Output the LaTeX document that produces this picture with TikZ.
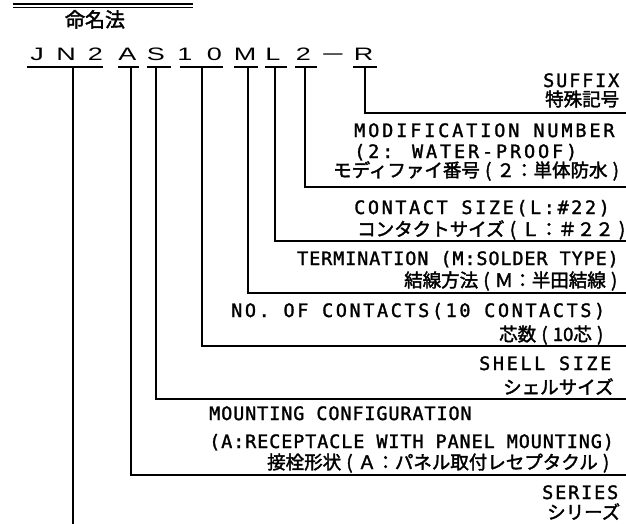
\documentclass[tikz,border=0pt]{standalone}
\usepackage{fontspec}
\usepackage{graphicx}
\newfontfamily\monoA[LetterSpace=15.5,FakeBold=1.5]{DejaVu Sans Mono}
\newfontfamily\monoB[LetterSpace=14.0,FakeBold=1.5]{DejaVu Sans Mono}
\newfontfamily\monoC[LetterSpace=10.0,FakeBold=1.5]{DejaVu Sans Mono}
\newfontfamily\monoD[LetterSpace=4.7,FakeBold=1.5]{DejaVu Sans Mono}
\newfontfamily\jpf[FakeBold=2]{Noto Sans CJK JP}
\newfontfamily\jpt{Noto Sans CJK JP}
\newfontfamily\codef{Liberation Sans}
\newcommand\jpo{\makebox[0.9em][c]{(}}
\newcommand\jpc{\makebox[0.9em][c]{)}}
\newcommand\wide[1]{\scalebox{1.5}[1]{#1}}
\tikzset{
  conn/.style={line width=1.6pt, line cap=rect},
  uline/.style={line width=1.5pt},
  code/.style={inner sep=0pt, anchor=base, font=\codef\fontsize{18}{20}\selectfont},
  la/.style={inner sep=0pt, anchor=base west, font=\monoA\fontsize{18.5}{20}\selectfont},
  lb/.style={inner sep=0pt, anchor=base west, font=\monoB\fontsize{18.5}{20}\selectfont},
  lc/.style={inner sep=0pt, anchor=base west, font=\monoC\fontsize{18.5}{20}\selectfont},
  ld/.style={inner sep=0pt, anchor=base west, font=\monoD\fontsize{18.5}{20}\selectfont},
  jp/.style={inner sep=0pt, anchor=base west, font=\jpf\fontsize{18.5}{20}\selectfont},
}
\begin{document}
\begin{tikzpicture}[x=1pt,y=-1pt]
\useasboundingbox[fill=white] (0,0) rectangle (626,523);
% header
\coordinate (h1a) at (13,4); \coordinate (h1b) at (193,4);
\coordinate (h2a) at (13,7.5); \coordinate (h2b) at (193,7.5);
\draw[line width=1.3pt] (h1a) -- (h1b);
\draw[line width=1.1pt] (h2a) -- (h2b);
\node[inner sep=0pt, anchor=base, font=\jpf\fontsize{20}{22}\selectfont] (title) at (95,27) {命名法};
% code letters
\node[code] (cJ) at (37,60) {\wide{J}};
\node[code] (cN) at (66,60) {\wide{N}};
\node[code] (c2a) at (95.5,60) {\wide{2}};
\node[code] (cA) at (127.5,60) {\wide{A}};
\node[code] (cS) at (156,60) {\wide{S}};
\node[code] (c1) at (185,60) {\wide{1}};
\node[code] (c0) at (214.5,60) {\wide{0}};
\node[code] (cM) at (245,60) {\wide{M}};
\node[code] (cL) at (273,60) {\wide{L}};
\node[code] (c2b) at (303.5,60) {\wide{2}};
\node[code] (cdash) at (333,60) {\scalebox{2.2}[1]{−}};
\node[code] (cR) at (363.5,60) {\wide{R}};
% underlines
\foreach \n/\a/\b in {JN/27/103, A/118/139, S/147/171, T/180/223, M/234/258, L/265/287, Two/295/317, R/353/377}{
  \coordinate (ul\n a) at (\a,67);
  \coordinate (ul\n b) at (\b,67);
  \draw[uline] (ul\n a) -- (ul\n b);
}
% stems (top of each connector)
\coordinate (sJN) at (73,67);
\coordinate (sA) at (131,67);
\coordinate (sS) at (156,67);
\coordinate (sT) at (202,67);
\coordinate (sM) at (248,67);
\coordinate (sL) at (275,67);
\coordinate (sTwo) at (305,67);
\coordinate (sR) at (365,67);
% right ends
\coordinate (eR) at (625,113);
\coordinate (eTwo) at (625,187);
\coordinate (eL) at (625,241);
\coordinate (eM) at (625,293);
\coordinate (eT) at (625,346);
\coordinate (eS) at (625,399);
\coordinate (eA) at (625,475);
\coordinate (eJN) at (73,523);
\draw[conn] (sR) |- (eR);
\draw[conn] (sTwo) |- (eTwo);
\draw[conn] (sL) |- (eL);
\draw[conn] (sM) |- (eM);
\draw[conn] (sT) |- (eT);
\draw[conn] (sS) |- (eS);
\draw[conn] (sA) |- (eA);
\draw[conn] (sJN) -- (eJN);
% labels
\node[lc] (suf) at (543,87) {SUFFIX};
\node[jp] (sufj) at (545,106) {特殊記号};
\node[la] (mod1) at (354,137) {MODIFICATION NUMBER};
\node[la] (mod2) at (354,158) {(2: WATER-PROOF)};
\node[jp] (modj) at (333,177) {モディファイ番号\jpo ２：単体防水\jpc};
\node[lb] (con1) at (354,214) {CONTACT SIZE(L:\#22)};
\node[jp] (conj) at (357,236) {コンタクトサイズ\jpo Ｌ：＃２２\jpc};
\node[ld] (ter1) at (297,265) {TERMINATION (M:SOLDER TYPE)};
\node[jp] (terj) at (404,287) {結線方法\jpo Ｍ：半田結線\jpc};
\node[lb] (no1) at (231,317) {NO. OF CONTACTS(10 CONTACTS)};
\node[jp] (noj) at (499,341) {芯数\jpo 10芯\jpc};
\node[lb] (sh1) at (479,370) {SHELL SIZE};
\node[jp] (shj) at (503,394) {シェルサイズ};
\node[ld] (mo1) at (209,420) {MOUNTING CONFIGURATION};
\node[ld] (mo2) at (209,448) {(A:RECEPTACLE WITH PANEL MOUNTING)};
\node[jp] (moj) at (267,469) {接栓形状\jpo Ａ：パネル取付レセプタクル\jpc};
\node[lc] (se1) at (542,499) {SERIES};
\node[jp] (sej) at (547,519) {シリーズ};
\end{tikzpicture}
\end{document}
